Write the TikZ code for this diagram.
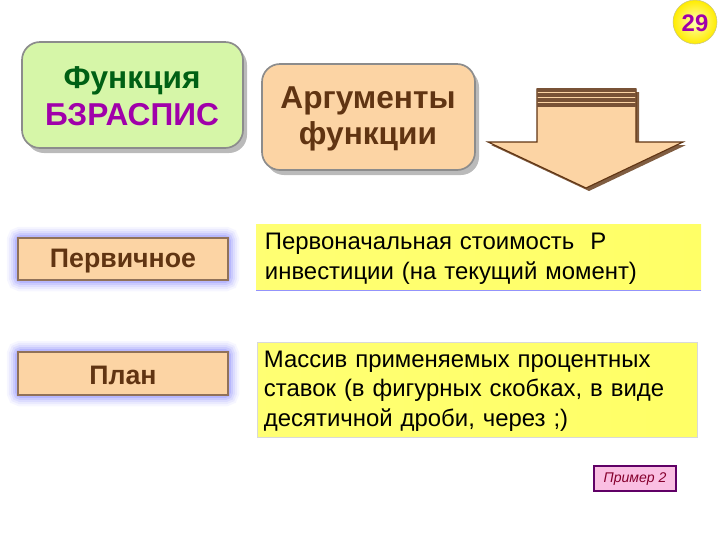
\documentclass[tikz,border=0pt]{standalone}
\usepackage{fontspec}
\setmainfont{Liberation Sans}
\definecolor{tan}{RGB}{252,212,164}
\definecolor{brownink}{RGB}{96,52,18}
\definecolor{greenink}{RGB}{0,96,20}
\definecolor{purpleink}{RGB}{160,0,170}
\definecolor{lightgreen}{RGB}{214,246,168}
\definecolor{glow}{RGB}{100,100,250}
\begin{document}
\begin{tikzpicture}[x=0.025cm,y=-0.025cm,font=\fontsize{17}{21}\selectfont]
\tikzset{
  dropshadow/.style={fill=black!60,opacity=0.45},
  namebox/.style={draw=brownink!70,line width=0.8pt,fill=tan},
  nametext/.style={text=brownink,font=\fontsize{19}{19}\selectfont\bfseries},
  argtext/.style={align=left,anchor=west,text width=11.5cm,font=\fontsize{17}{21}\selectfont},
  boldtext/.style={font=\fontsize{22.5}{26}\selectfont\bfseries}
}
\useasboundingbox (0,0) rectangle (720,540);
% page number
\shade[inner color=yellow!30,outer color=yellow!85!orange,draw=yellow!60!black!60] (695,22) circle [radius=22];
\node[text=purpleink,font=\fontsize{17}{17}\selectfont\bfseries] (page) at (695,23) {29};
% function name
\fill[dropshadow,rounded corners=0.45cm] (26,47) rectangle (247,153);
\draw[fill=lightgreen,draw=black!45,line width=1.2pt,rounded corners=0.45cm] (22,42) rectangle (243,148);
\node[boldtext,align=center] (func) at (132,96) {\textcolor{greenink}{Функция}\\\textcolor{purpleink}{БЗРАСПИС}};
% arguments
\fill[dropshadow,rounded corners=0.45cm] (266,69) rectangle (479,175);
\draw[fill=tan,draw=black!45,line width=1.2pt,rounded corners=0.45cm] (262,64) rectangle (475,170);
\node[boldtext,align=center,text=brownink] (args) at (368,119) {Аргументы\\функции};
% down arrow
\fill[brownink!80] (540,92) -- (639,92) -- (639,145) -- (686,145) -- (589,191) -- (491,145) -- (540,145) -- cycle;
\draw[fill=tan,draw=brownink,line width=0.8pt] (537,89) -- (636,89) -- (636,142) -- (683,142) -- (586,188) -- (488,142) -- (537,142) -- cycle;
\foreach \yy in {90,95,100,105}
  \draw[brownink!85,line width=2.2pt] (537,\yy) -- (636,\yy);
% first argument
\foreach \w/\o in {16/0.06,13/0.08,10/0.1,7/0.14,4/0.2}
  \draw[glow,line width=\w pt,opacity=\o,rounded corners=2pt] (18,238) rectangle (228,280);
\draw[namebox] (18,238) rectangle (228,280);
\node[nametext] (first) at (123,261) {Первичное};
\shade[left color=yellow!55,middle color=yellow!15,right color=yellow!60] (256,224) rectangle (701,290);
\draw[glow!70,line width=0.6pt] (256,290) -- (701,290);
\node[argtext] (firstdesc) at (260,259) {Первоначальная стоимость~ Р\\инвестиции (на текущий момент)};
% second argument
\foreach \w/\o in {16/0.06,13/0.08,10/0.1,7/0.14,4/0.2}
  \draw[glow,line width=\w pt,opacity=\o,rounded corners=2pt] (18,352) rectangle (228,395);
\draw[namebox] (18,352) rectangle (228,395);
\node[nametext] (plan) at (123,375) {План};
\shade[left color=yellow!55,middle color=yellow!15,right color=yellow!60] (257,342) rectangle (697,437);
\draw[black!15,line width=0.4pt] (257,342) rectangle (697,437);
\node[argtext] (plandesc) at (259,391) {Массив применяемых процентных\\ставок (в фигурных скобках, в виде\\десятичной дроби, через ;)};
% example link
\draw[fill=magenta!25,draw=purpleink!60!black,line width=0.8pt] (594,466) rectangle (676,491);
\node[text=purple!70!black,font=\fontsize{10}{10}\selectfont\itshape] (example) at (635,479) {Пример 2};
\end{tikzpicture}
\end{document}
